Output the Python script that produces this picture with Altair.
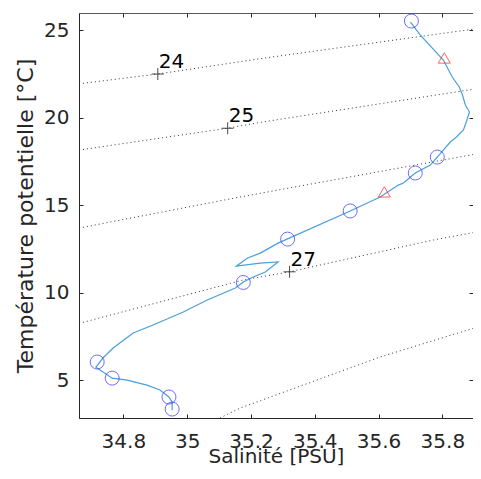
import altair as alt
import pandas as pd

# ---- data ----
# CTD profile: salinity [PSU] and potential temperature [°C]
prof_S = [35.700, 35.731, 35.803, 35.831, 35.853, 35.863, 35.872, 35.885, 35.875, 35.866,
          35.844, 35.825, 35.803, 35.784, 35.762, 35.715, 35.678, 35.662, 35.605, 35.511,
          35.313, 35.285, 35.229, 35.188, 35.154, 35.229, 35.285, 35.245, 35.207, 35.176,
          35.151, 35.063, 34.988, 34.893, 34.831, 34.768, 34.736, 34.714, 34.727, 34.765,
          34.812, 34.874, 34.915, 34.943, 34.953, 34.953]
prof_T = [25.47, 24.73, 23.30, 22.33, 21.76, 21.30, 20.73, 20.33, 19.76, 19.30,
          18.90, 18.61, 18.15, 17.75, 17.29, 16.84, 16.27, 16.15, 15.47, 14.67,
          13.06, 12.83, 12.26, 11.97, 11.51, 11.69, 11.75, 11.18, 10.89, 10.61,
          10.26, 9.58, 8.89, 8.15, 7.69, 6.83, 6.26, 5.74, 5.57, 5.11,
          5.00, 4.71, 4.43, 4.03, 3.74, 3.28]

# circle markers
circ_S = [35.703, 35.784, 35.715, 35.511, 35.315, 35.176, 34.718, 34.765, 34.943, 34.953]
circ_T = [25.53, 17.75, 16.84, 14.67, 13.06, 10.58, 6.03, 5.11, 4.03, 3.34]

# triangle markers
tri_S = [35.806, 35.618]
tri_T = [23.42, 15.76]

# isopycnals (sigma-theta) read as points
iso_sigma = ["24"] * 4 + ["25"] * 4 + ["26"] * 3 + ["27"] * 5 + ["28"] * 4
iso_S = [34.661, 34.908, 35.237, 35.922,
         34.661, 35.126, 35.241, 35.922,
         34.661, 35.166, 35.922,
         34.661, 35.175, 35.321, 35.772, 35.922,
         35.103, 35.166, 35.605, 35.922]
iso_T = [21.94, 22.50, 23.40, 25.13,
         18.15, 19.40, 19.77, 21.70,
         13.69, 15.47, 17.98,
         8.24, 10.72, 11.19, 13.01, 13.52,
         2.83, 3.40, 6.32, 8.10]

# contour labels
lab_text = ["24", "25", "27"]
lab_S = [34.908, 35.127, 35.321]
lab_T = [22.50, 19.40, 11.19]

x_ticks = [34.8, 35.0, 35.2, 35.4, 35.6, 35.8]
y_ticks = [5, 10, 15, 20, 25]
x_domain = [34.661, 35.896]
y_domain = [2.83, 25.99]

# ---- tables ----
prof = pd.DataFrame({"S": prof_S, "T": prof_T, "i": range(len(prof_S))})
circ = pd.DataFrame({"S": circ_S, "T": circ_T})
tri = pd.DataFrame({"S": tri_S, "T": tri_T})
iso = pd.DataFrame({"sigma": iso_sigma, "S": iso_S, "T": iso_T, "i": range(len(iso_S))})
labs = pd.DataFrame({"txt": lab_text, "S": lab_S, "T": lab_T})

W, H = 394, 405
FONT = "DejaVu Sans"
AX = "#262626"

xs = alt.Scale(domain=x_domain, nice=False, zero=False)
ys = alt.Scale(domain=y_domain, nice=False, zero=False)

main_x = alt.Axis(orient="bottom", values=x_ticks, format="~f", ticks=False, tickSize=0,
                  labelPadding=13, labelFontSize=20, labelFont=FONT, labelColor=AX,
                  labelFlush=False, labelOverlap=False, domainColor=AX, grid=False,
                  title="Salinité [PSU]", titleFont=FONT, titleFontSize=20,
                  titleFontWeight="normal", titleColor=AX, titlePadding=-5)
main_y = alt.Axis(orient="left", values=y_ticks, format="~f", ticks=False, tickSize=0,
                  labelPadding=10, labelFontSize=20, labelFont=FONT, labelColor=AX,
                  labelFlush=False, labelOverlap=False, domainColor=AX, grid=False,
                  title="Température potentielle [°C]", titleFont=FONT, titleFontSize=22,
                  titleFontWeight="normal", titleColor=AX, titlePadding=6)


def tick_axis(orient, values, offset):
    return alt.Axis(orient=orient, values=values, offset=offset, labels=False, domain=False,
                    ticks=True, tickSize=4, tickColor=AX, tickWidth=1, grid=False, title=None)


contours = alt.Chart(iso).mark_line(clip=True, color="#333333", strokeWidth=1,
                                    strokeDash=[1, 3]).encode(
    x=alt.X("S:Q", scale=xs, axis=main_x),
    y=alt.Y("T:Q", scale=ys, axis=main_y),
    detail="sigma:N",
    order="i:Q",
)

plus = alt.Chart(labs).mark_point(shape="M-1,0L1,0M0,-1L0,1", size=144, color="black",
                                  strokeWidth=1, filled=False).encode(
    x=alt.X("S:Q", scale=xs, axis=None),
    y=alt.Y("T:Q", scale=ys, axis=None),
)

texts = alt.Chart(labs).mark_text(align="left", baseline="alphabetic", dx=1, dy=-6,
                                  fontSize=20, font=FONT, color="black").encode(
    x=alt.X("S:Q", scale=xs, axis=None),
    y=alt.Y("T:Q", scale=ys, axis=None),
    text="txt:N",
)

profile = alt.Chart(prof).mark_line(color="#4a9fdc", strokeWidth=1.2).encode(
    x=alt.X("S:Q", scale=xs, axis=tick_axis("top", x_ticks, -H)),
    y=alt.Y("T:Q", scale=ys, axis=tick_axis("left", y_ticks, -W)),
    order="i:Q",
)

circles = alt.Chart(circ).mark_point(shape="circle", filled=False, size=196,
                                     color="#2f2fff", strokeWidth=1).encode(
    x=alt.X("S:Q", scale=xs, axis=tick_axis("bottom", x_ticks, -H)),
    y=alt.Y("T:Q", scale=ys, axis=tick_axis("right", y_ticks, -W)),
)

triangles = alt.Chart(tri).mark_point(shape="triangle-up", filled=False, size=144,
                                      color="#ff2020", strokeWidth=1).encode(
    x=alt.X("S:Q", scale=xs, axis=None),
    y=alt.Y("T:Q", scale=ys, axis=None),
)

chart = alt.layer(contours, plus, texts, profile, circles, triangles).resolve_axis(
    x="independent", y="independent"
).properties(
    width=W, height=H,
    autosize=alt.AutoSizeParams(type="none"),
    padding={"left": 71, "top": 5, "right": 0, "bottom": 49},
    background="white",
).configure_view(stroke="#5a5a5a", strokeWidth=1)

chart.save("out.html", embed_options={"renderer": "svg", "actions": False})
